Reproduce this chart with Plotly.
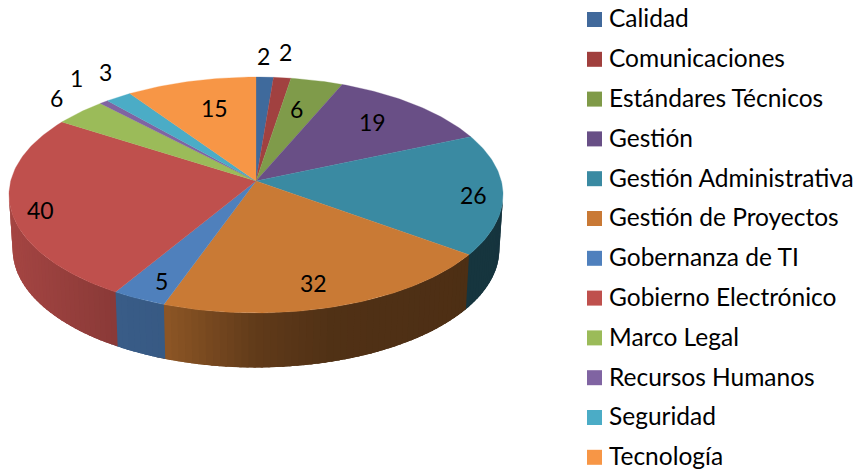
import numpy as np
import plotly.graph_objects as go

categories = ["Calidad", "Comunicaciones", "Estándares Técnicos", "Gestión",
              "Gestión Administrativa", "Gestión de Proyectos", "Gobernanza de TI",
              "Gobierno Electrónico", "Marco Legal", "Recursos Humanos", "Seguridad", "Tecnología"]
values = [2, 2, 6, 19, 26, 32, 5, 40, 6, 1, 3, 15]
face_colors = ["#3F6A9C", "#A14140", "#7F9B4A", "#694F86", "#3A8AA2", "#C97A35",
               "#4F80BC", "#BF504D", "#9BBB59", "#8064A2", "#4BACC6", "#F79646"]
legend_colors = ["#41699B", "#A03F3D", "#7F9A48", "#684F86", "#3A8AA2", "#C97935",
                 "#4F80BD", "#BF504D", "#9BBB59", "#8064A2", "#4BACC6", "#F79646"]
label_x = [263, 285, 296, 372, 473, 313, 161, 40, 56, 76, 105, 214]
label_y = [56, 52, 109, 122, 195, 283, 281, 210, 98, 78, 72, 108]

W, H = 859, 472
CX, CY, RX, RY, K = 256.0, 181.0, 245.3, 116.3, 0.1186
DEPTH, SHRINK = 54.5, 0.985
shade_x = [10, 115, 165, 256, 330, 500]
shade_f = [0.86, 0.72, 0.70, 0.48, 0.40, 0.38]
LEG_MARK_X, LEG_TEXT_X, LEG_TOP, LEG_STEP, LEG_TEXT_DY = 594.5, 609, 19.5, 39.8, 1.8


def project(theta_deg):
    t = np.radians(np.asarray(theta_deg, float))
    u, v = np.sin(t), np.cos(t)
    s = 1 / (1 + K * v)
    return CX + RX * u * s, CY - RY * v * s


def shade(color, x):
    f = float(np.interp(x, shade_x, shade_f))
    r, g, b = (int(color[i:i + 2], 16) for i in (1, 3, 5))
    return f"rgb({r * f:.0f},{g * f:.0f},{b * f:.0f})"


fig = go.Figure()
edges = np.concatenate([[0], np.cumsum(values)]) / sum(values) * 360
wall_from = 90 + np.degrees(np.arcsin(K))
wall_to = 270 - np.degrees(np.arcsin(K))

# side walls: overlapping shaded bands, each painted over the previous one
for i, col in enumerate(face_colors):
    a, b = max(edges[i], wall_from), min(edges[i + 1], wall_to)
    if a >= b:
        continue
    steps = np.linspace(a, b, max(2, int((b - a) / 1.5) + 2))
    for p, q in zip(steps[:-1], steps[1:]):
        end = min(q + 2.0, wall_to)
        x, y = project([p, end])
        bx = CX + (x - CX) * SHRINK
        by = y + DEPTH
        c = shade(col, float(np.mean(project([p, q])[0])))
        fig.add_trace(go.Scatter(x=[x[0], x[1], bx[1], bx[0], x[0]],
                                 y=[y[0], y[1], by[1], by[0], y[0]],
                                 mode="none", fill="toself", fillcolor=c,
                                 showlegend=False, hoverinfo="skip"))

# top face
for i, col in enumerate(face_colors):
    th = np.linspace(edges[i], edges[i + 1], max(3, int(edges[i + 1] - edges[i]) + 2))
    x, y = project(th)
    fig.add_trace(go.Scatter(x=np.r_[CX, x, CX], y=np.r_[CY, y, CY],
                             mode="lines", fill="toself", fillcolor=col,
                             line=dict(color=col, width=0.3),
                             name=categories[i], showlegend=False,
                             hovertemplate=f"{categories[i]}: {values[i]}<extra></extra>"))

# legend
leg_y = [LEG_TOP + LEG_STEP * i for i in range(len(categories))]
fig.add_trace(go.Scatter(x=[LEG_MARK_X] * len(categories), y=leg_y, mode="markers",
                         marker=dict(symbol="square", size=15, color=legend_colors),
                         showlegend=False, hoverinfo="skip"))
fig.add_trace(go.Scatter(x=[LEG_TEXT_X] * len(categories), y=[v + LEG_TEXT_DY for v in leg_y],
                         mode="text", text=categories, textposition="middle right",
                         textfont=dict(family="Lato", size=24.5, color="#000000"),
                         showlegend=False, hoverinfo="skip", cliponaxis=False))

for v, lx, ly in zip(values, label_x, label_y):
    fig.add_annotation(x=lx, y=ly, text=str(v), showarrow=False,
                       font=dict(family="Lato", size=23, color="#000000"))

fig.update_layout(
    width=W, height=H, margin=dict(l=0, r=0, t=0, b=0),
    paper_bgcolor="white", plot_bgcolor="white",
    xaxis=dict(range=[0, W], visible=False, fixedrange=True),
    yaxis=dict(range=[H, 0], visible=False, fixedrange=True),
    showlegend=False,
)
fig.write_html("out.html", config={"displayModeBar": False},
               post_script="document.body.style.margin='0';document.body.style.overflow='hidden';")
